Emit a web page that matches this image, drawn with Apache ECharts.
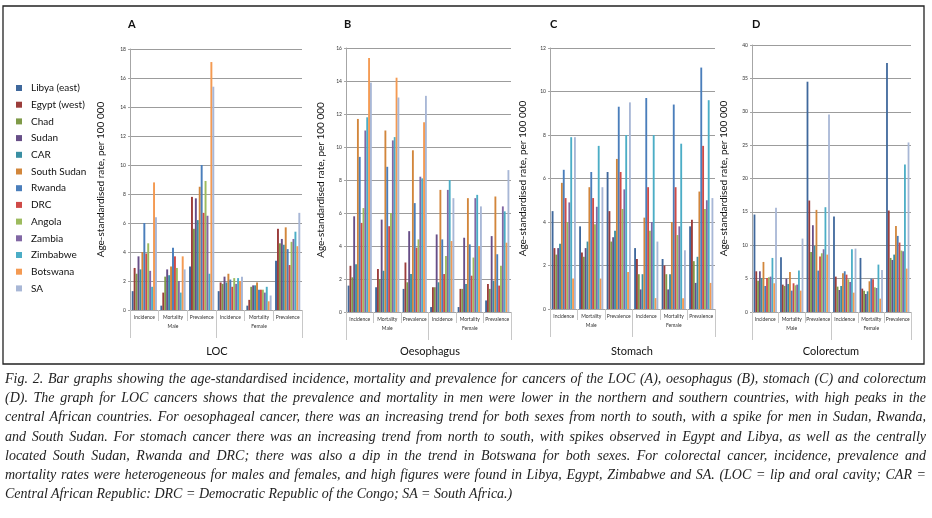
<!DOCTYPE html>
<html><head><meta charset="utf-8">
<script src="https://cdn.jsdelivr.net/npm/echarts@6/dist/echarts.min.js"></script>
<style>
html,body{margin:0;padding:0;background:#fff;}
#chart{position:absolute;left:0;top:0;width:932px;height:518px;}
#cap{position:absolute;left:5px;top:369px;width:921px;font-family:'Liberation Serif',serif;font-style:italic;font-size:14px;line-height:19.2px;color:#222;}
#cap div{text-align:justify;text-align-last:justify;white-space:nowrap;}
#cap div.last{text-align-last:left;}
</style></head><body>
<div id="chart"></div>
<div id="cap">
<div>Fig. 2. Bar graphs showing the age-standardised incidence, mortality and prevalence for cancers of the LOC (A), oesophagus (B), stomach (C) and colorectum</div>
<div>(D). The graph for LOC cancers shows that the prevalence and mortality in men were lower in the northern and southern countries, with high peaks in the</div>
<div>central African countries. For oesophageal cancer, there was an increasing trend for both sexes from north to south, with a spike for men in Sudan, Rwanda,</div>
<div>and South Sudan. For stomach cancer there was an increasing trend from north to south, with spikes observed in Egypt and Libya, as well as the centrally</div>
<div>located South Sudan, Rwanda and DRC; there was also a dip in the trend in Botswana for both sexes. For colorectal cancer, incidence, prevalence and</div>
<div>mortality rates were heterogeneous for males and females, and high figures were found in Libya, Egypt, Zimbabwe and SA. (LOC = lip and oral cavity; CAR =</div>
<div class="last">Central African Republic: DRC = Democratic Republic of the Congo; SA = South Africa.)</div>
</div>
<script>
const countries = ['Libya (east)','Egypt (west)','Chad','Sudan','CAR','South Sudan','Rwanda','DRC','Angola','Zambia','Zimbabwe','Botswana','SA'];
const measures = ['Incidence','Mortality','Prevalence','Incidence','Mortality','Prevalence'];
const sexes = ['Male','Female'];
const panelLetters = ['A','B','C','D'];
const panelNames = ['LOC','Oesophagus','Stomach','Colorectum'];
const yMax = [18, 16, 12, 40];
const yStep = [2, 2, 2, 5];

// rows: Male Inc, Male Mort, Male Prev, Female Inc, Female Mort, Female Prev; columns: countries
const loc = [
  [1.3, 2.9, 2.5, 3.7, 2.8, 4.0, 6.0, 3.9, 4.6, 2.7, 1.6, 8.8, 6.4],
  [0.3, 1.2, 2.3, 2.8, 2.4, 3.0, 4.3, 3.7, 2.9, 2.0, 1.2, 3.7, 2.8],
  [3.0, 7.8, 5.6, 7.7, 6.2, 8.5, 10.0, 6.7, 8.9, 6.5, 2.5, 17.1, 15.4],
  [1.3, 1.9, 1.8, 2.3, 1.9, 2.5, 2.1, 1.6, 2.2, 1.8, 2.2, 2.0, 2.3],
  [0.3, 0.7, 1.6, 1.7, 1.7, 1.9, 1.4, 1.4, 1.4, 1.2, 1.6, 0.6, 1.0],
  [3.4, 5.6, 4.6, 4.9, 4.5, 5.7, 4.2, 3.1, 4.7, 4.9, 5.4, 4.4, 6.7]
];
const oesophagus = [
  [1.6, 2.8, 2.1, 5.8, 2.9, 11.7, 9.4, 5.4, 6.3, 11.0, 11.8, 15.4, 13.9],
  [1.5, 2.6, 2.0, 5.6, 2.5, 11.0, 8.8, 5.2, 6.0, 10.4, 10.6, 14.2, 13.0],
  [1.4, 3.0, 1.8, 4.9, 2.3, 9.8, 6.6, 3.9, 4.4, 8.2, 8.1, 11.5, 13.1],
  [0.3, 1.5, 1.5, 4.7, 1.8, 7.4, 4.4, 2.3, 3.4, 7.4, 8.0, 4.3, 6.9],
  [0.3, 1.4, 1.4, 4.5, 1.7, 6.9, 4.1, 2.2, 3.3, 6.9, 7.1, 4.0, 6.4],
  [0.7, 1.7, 1.4, 4.6, 1.9, 7.0, 3.5, 1.6, 2.8, 6.4, 6.1, 4.2, 8.6]
];
const stomach = [
  [4.5, 2.8, 2.5, 2.8, 3.0, 5.8, 6.4, 5.1, 4.0, 4.9, 7.9, 1.4, 7.9],
  [3.8, 2.6, 2.4, 2.8, 3.1, 5.6, 6.3, 5.1, 3.9, 4.7, 7.5, 1.4, 5.6],
  [6.3, 4.5, 3.1, 3.3, 3.6, 6.9, 9.3, 6.3, 4.6, 5.5, 8.0, 1.7, 9.5],
  [2.8, 2.3, 1.6, 0.9, 1.6, 4.2, 9.7, 5.6, 3.6, 4.0, 8.0, 0.5, 3.1],
  [2.3, 2.0, 1.6, 0.9, 1.6, 4.0, 9.4, 5.6, 3.4, 3.8, 7.6, 0.5, 2.7],
  [3.8, 4.1, 2.2, 1.2, 2.4, 5.4, 11.1, 7.5, 4.6, 5.0, 9.6, 1.2, 5.1]
];
const colorectum = [
  [14.6, 6.1, 4.7, 6.1, 5.1, 7.5, 3.9, 5.1, 5.2, 5.3, 8.1, 4.3, 15.6],
  [8.2, 4.1, 3.9, 5.0, 4.2, 6.0, 3.2, 4.3, 4.0, 4.1, 6.2, 3.2, 11.0],
  [34.5, 16.7, 9.0, 13.0, 9.9, 15.3, 6.2, 8.3, 8.8, 9.4, 15.7, 8.6, 29.6],
  [14.3, 5.3, 3.8, 3.3, 3.9, 5.8, 6.1, 5.6, 4.9, 4.5, 9.4, 2.9, 9.5],
  [8.1, 3.5, 3.2, 2.7, 3.1, 4.6, 5.0, 4.9, 3.7, 3.6, 7.1, 2.0, 6.3],
  [37.3, 15.2, 8.1, 7.8, 8.6, 12.9, 11.4, 10.4, 9.2, 9.1, 22.1, 6.5, 25.4]
];
const panels = [loc, oesophagus, stomach, colorectum];
const colors = ['#3F689C','#9B3D3B','#7F9A48','#674E87','#3A8FA3','#D2863B','#4A7EBB','#CF4A47','#9DBB5E','#8167A4','#4BADC6','#F49A52','#A8B7D6'];

// layout
const grids = [
  {left:130, right:630, top:49, bottom:208},
  {left:346, right:421, top:48, bottom:206},
  {left:550, right:217, top:48, bottom:209},
  {left:752, right:21, top:45, bottom:206}
];
const nameGaps = [24, 20, 22, 23];
const letterPos = [[128,19],[344,19],[550,19],[752,19]];
const namePos = [217, 430, 632, 831];
const FONT = 'Lato, "Open Sans", sans-serif';

const chart = echarts.init(document.getElementById('chart'));
const xAxis = [], yAxis = [], series = [], graphic = [];
grids.forEach((g, p) => {
  xAxis.push({
    type:'category', gridIndex:p, data:measures, position:'bottom',
    axisLine:{show:true, lineStyle:{color:'#a6a6a6'}},
    axisTick:{show:true, interval:0, length:11, lineStyle:{color:'#c8c8c8'}},
    axisLabel:{interval:0, fontSize:5, color:'#333', margin:5, fontFamily:FONT}
  });
  xAxis.push({
    type:'category', gridIndex:p, data:sexes, position:'bottom',
    axisLine:{show:false},
    axisTick:{show:true, interval:0, length:28, lineStyle:{color:'#c8c8c8'}},
    axisLabel:{interval:0, fontSize:5, color:'#333', margin:14, fontFamily:FONT}
  });
  yAxis.push({
    type:'value', gridIndex:p, min:0, max:yMax[p], interval:yStep[p],
    name:'Age-standardised rate, per 100 000', nameLocation:'middle', nameGap:nameGaps[p],
    nameTextStyle:{fontSize:10, color:'#111', fontFamily:FONT},
    axisLine:{show:true, lineStyle:{color:'#a6a6a6'}},
    axisTick:{show:true, length:2, lineStyle:{color:'#a6a6a6'}},
    axisLabel:{fontSize:5, color:'#333', margin:4, fontFamily:FONT},
    splitLine:{show:true, lineStyle:{color:'#9c9c9c', width:1}}
  });
  countries.forEach((c, i) => {
    series.push({
      type:'bar', name:c, xAxisIndex:p*2, yAxisIndex:p,
      data: panels[p].map(row => row[i]),
      barGap:'0%', barCategoryGap:'12%',
      itemStyle:{color: colors[i]}
    });
  });
  graphic.push({type:'text', left:letterPos[p][0], top:letterPos[p][1],
    style:{text:panelLetters[p], font:'bold 11px '+FONT, fill:'#111'}});
  graphic.push({type:'text', x:namePos[p], y:351,
    style:{text:panelNames[p], font:'11px '+FONT, fill:'#111', textAlign:'center', textVerticalAlign:'middle'}});
});
graphic.push({type:'rect', shape:{x:3, y:6, width:921, height:358},
  style:{fill:'none', stroke:'#222', lineWidth:1.3}, z:-1});

chart.setOption({
  animation:false,
  grid: grids,
  xAxis, yAxis, series, graphic,
  legend:{
    orient:'vertical', left:11, top:77, data:countries,
    itemWidth:6, itemHeight:6, itemGap:4.7, icon:'rect',
    textStyle:{fontSize:10, color:'#111', fontFamily:FONT, lineHeight:12, padding:[0,0,0,4]}
  }
});
</script>
</body></html>
